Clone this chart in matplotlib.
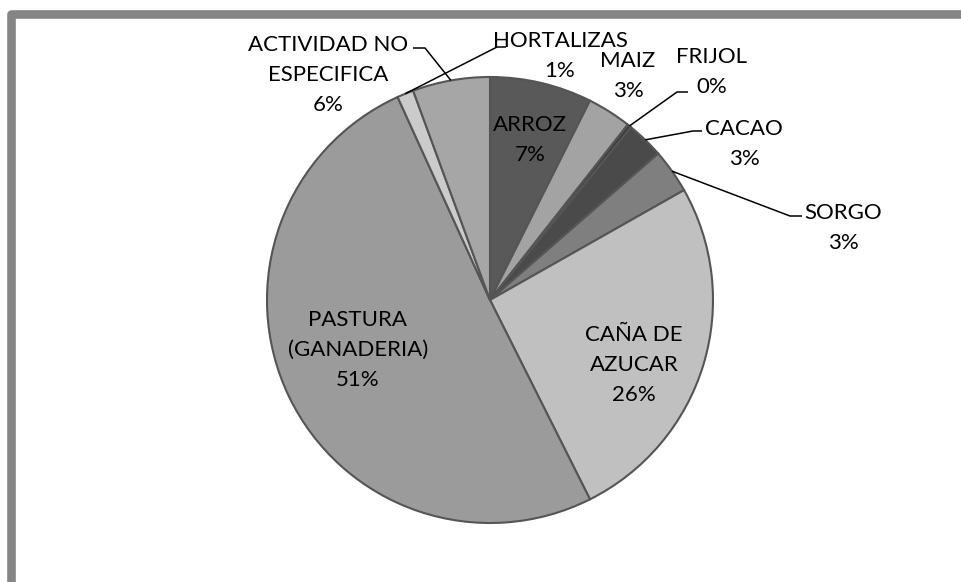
import numpy as np
import matplotlib.pyplot as plt

# Land use shares (%), clockwise from 12 o'clock
categories = ["ARROZ", "MAIZ", "FRIJOL", "CACAO", "SORGO", "CAÑA DE\nAZUCAR",
              "PASTURA\n(GANADERIA)", "HORTALIZAS", "ACTIVIDAD NO\nESPECIFICA"]
values = [7.4, 3.2, 0.3, 2.7, 3.2, 25.8, 50.6, 1.2, 5.6]
colors = ["#595959", "#a3a3a3", "#3f3f3f", "#4a4a4a", "#7f7f7f", "#c0c0c0",
          "#9b9b9b", "#cbcbcb", "#a6a6a6"]

W, H = 961, 582
fig = plt.figure(figsize=(W / 100, H / 100), dpi=100)
ax = fig.add_axes([0, 0, 1, 1])

cx, cy, r = 490, H - 300, 223
wedges, _ = ax.pie(values, colors=colors, startangle=90, counterclock=False,
                   center=(cx, cy), radius=r, frame=True,
                   wedgeprops=dict(edgecolor="#555555", linewidth=1.5))
ax.set_xlim(0, W)
ax.set_ylim(0, H)
ax.set_aspect("equal")
ax.axis("off")

font = dict(family=["Lato", "DejaVu Sans"], fontsize=16, color="black",
            linespacing=1.65)

def lbl(i):
    return f"{categories[i]}\n{int(round(values[i]))}%"

def edge_point(i):
    w = wedges[i]
    ang = np.deg2rad((w.theta1 + w.theta2) / 2)
    return cx + r * np.cos(ang), cy + r * np.sin(ang)

# labels placed inside slices
ax.text(530, H - 140, lbl(0), ha="center", va="center", **font)
ax.text(634, H - 365, lbl(5), ha="center", va="center", **font)
ax.text(358, H - 350, lbl(6), ha="center", va="center", **font)
# MAIZ, no leader
ax.text(628, H - 76, lbl(1), ha="center", va="center", **font)

# labels with leader lines: (index, elbow point, end point, text pos)
leaders = [
    (2, (677, 92), (688, 92), (712, 72)),
    (3, (693, 131), (702, 131), (744, 144)),
    (4, (790, 216), (802, 216), (843, 228)),
    (7, (497, 47), (506, 47), (560, 56)),
    (8, (425, 48), (413, 48), (328, 75)),
]
for i, elbow, end, tpos in leaders:
    sx, sy = edge_point(i)
    ax.plot([sx, elbow[0], end[0]], [sy, H - elbow[1], H - end[1]],
            color="black", lw=1.1, solid_capstyle="butt")
    ax.text(tpos[0], H - tpos[1], lbl(i), ha="center", va="center", **font)

# outer gray frame (only top and left edges visible)
ax.plot([W + 20, 11, 11], [H - 13.5, H - 13.5, -20], color="#858585",
        lw=6.2, solid_joinstyle="round", clip_on=False)

fig.savefig("out.png", dpi=100, facecolor="white")
